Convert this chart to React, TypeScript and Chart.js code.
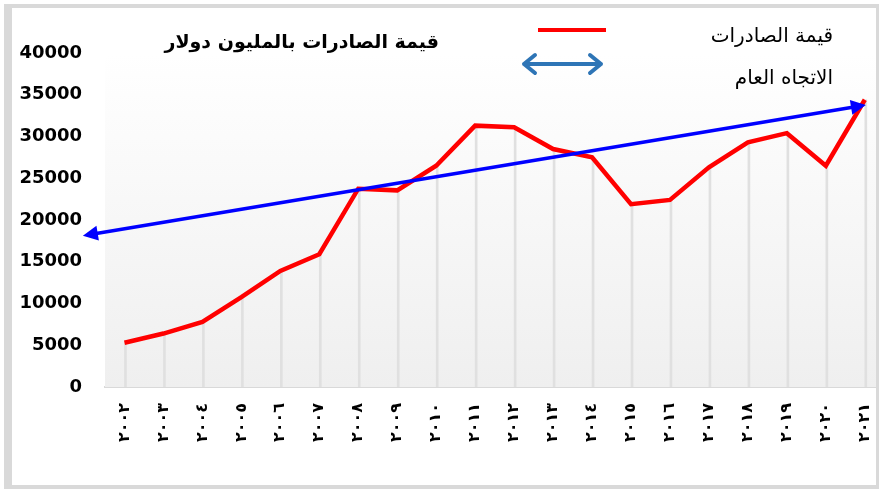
import React, { useEffect, useRef } from "react";
import { Chart, registerables } from "chart.js";

Chart.register(...registerables);

const YEARS = [
  "٢٠٠٢", "٢٠٠٣", "٢٠٠٤", "٢٠٠٥", "٢٠٠٦", "٢٠٠٧", "٢٠٠٨", "٢٠٠٩", "٢٠١٠", "٢٠١١",
  "٢٠١٢", "٢٠١٣", "٢٠١٤", "٢٠١٥", "٢٠١٦", "٢٠١٧", "٢٠١٨", "٢٠١٩", "٢٠٢٠", "٢٠٢١",
];
const EXPORTS = [
  5300, 6400, 7800, 10750, 13900, 15900, 23750, 23550, 26500, 31300,
  31100, 28500, 27500, 21900, 22400, 26300, 29300, 30400, 26500, 34400,
];
const TREND_X = [-0.84, 18.8];
const TREND_Y = [18300, 33600];
const Y_MIN = 0;
const Y_MAX = 40000;
const Y_STEP = 5000;

const TITLE = "قيمة الصادرات بالمليون دولار";
const LEGEND_EXPORTS = "قيمة الصادرات";
const LEGEND_TREND = "الاتجاه العام";

const bgPlugin = {
  id: "bgPlugin",
  beforeDatasetsDraw(chart: any) {
    const { ctx, chartArea: a } = chart;
    const g = ctx.createLinearGradient(0, a.top, 0, a.bottom);
    g.addColorStop(0, "#ffffff");
    g.addColorStop(1, "#efefef");
    ctx.save();
    ctx.fillStyle = g;
    ctx.fillRect(a.left, a.top, a.right - a.left, a.bottom - a.top);
    ctx.restore();
  },
};

// arrow heads at both ends of the trend dataset, placed from its own points
const arrowPlugin = {
  id: "arrowPlugin",
  afterDatasetsDraw(chart: any) {
    const meta = chart.getDatasetMeta(0);
    const pts = meta.data;
    if (!pts || pts.length < 2) return;
    const a = pts[0];
    const b = pts[pts.length - 1];
    const dx = b.x - a.x;
    const dy = b.y - a.y;
    const len = Math.hypot(dx, dy);
    const ux = dx / len;
    const uy = dy / len;
    const { ctx } = chart;
    const head = (px: number, py: number, sx: number, sy: number) => {
      const tipX = px + sx * 9;
      const tipY = py + sy * 9;
      const bx = px - sx * 6;
      const by = py - sy * 6;
      const nx = -sy * 7.5;
      const ny = sx * 7.5;
      ctx.beginPath();
      ctx.moveTo(tipX, tipY);
      ctx.lineTo(bx + nx, by + ny);
      ctx.lineTo(bx - nx, by - ny);
      ctx.closePath();
      ctx.fill();
    };
    ctx.save();
    ctx.fillStyle = "#0000ff";
    head(a.x, a.y, -ux, -uy);
    head(b.x, b.y, ux, uy);
    ctx.restore();
  },
};

const overlayPlugin = {
  id: "overlayPlugin",
  afterDraw(chart: any) {
    const { ctx } = chart;
    ctx.save();
    ctx.fillStyle = "#000";
    ctx.font = 'bold 19px "DejaVu Sans"';
    ctx.textAlign = "right";
    ctx.textBaseline = "middle";
    ctx.fillText(TITLE, 439, 43);
    ctx.strokeStyle = "#ff0000";
    ctx.lineWidth = 4;
    ctx.beginPath();
    ctx.moveTo(538, 30);
    ctx.lineTo(606, 30);
    ctx.stroke();
    ctx.font = '20px "DejaVu Sans"';
    ctx.fillText(LEGEND_EXPORTS, 833, 37);
    ctx.strokeStyle = "#2e75b6";
    ctx.lineWidth = 4;
    ctx.lineCap = "round";
    ctx.lineJoin = "round";
    ctx.beginPath();
    ctx.moveTo(524, 64);
    ctx.lineTo(601, 64);
    ctx.moveTo(535, 55);
    ctx.lineTo(524, 64);
    ctx.lineTo(535, 73);
    ctx.moveTo(590, 55);
    ctx.lineTo(601, 64);
    ctx.lineTo(590, 73);
    ctx.stroke();
    ctx.fillText(LEGEND_TREND, 833, 79);
    ctx.restore();
  },
};

export default function App() {
  const ref = useRef<HTMLCanvasElement>(null);

  useEffect(() => {
    if (!ref.current) return;
    const chart = new Chart(ref.current, {
      type: "bar",
      data: {
        labels: YEARS,
        datasets: [
          {
            type: "line",
            label: LEGEND_TREND,
            data: TREND_X.map((x, i) => ({ x, y: TREND_Y[i] })),
            xAxisID: "xt",
            borderColor: "#0000ff",
            backgroundColor: "#0000ff",
            borderWidth: 3.5,
            pointRadius: 0,
            clip: false,
            order: 0,
          } as any,
          {
            type: "line",
            label: LEGEND_EXPORTS,
            data: EXPORTS,
            borderColor: "#ff0000",
            borderWidth: 4.5,
            pointRadius: 0,
            tension: 0,
            order: 1,
          } as any,
          {
            type: "bar",
            label: "drop",
            data: EXPORTS,
            backgroundColor: "#e0e0e0",
            barThickness: 2,
            order: 2,
          } as any,
        ],
      },
      options: {
        responsive: false,
        animation: false,
        layout: { padding: { top: 53, left: 0, right: 0, bottom: 0 } },
        plugins: {
          legend: { display: false },
          tooltip: { enabled: false },
          title: { display: false },
        },
        scales: {
          x: {
            type: "category",
            offset: true,
            grid: { display: false, drawTicks: false },
            border: { display: true, color: "#d9d9d9", width: 2 },
            ticks: {
              minRotation: 90,
              maxRotation: 90,
              autoSkip: false,
              padding: 16,
              color: "#000",
              font: { family: "DejaVu Sans", size: 16, weight: "bold" },
            },
            afterFit: (s: any) => {
              s.height = 102;
            },
          },
          xt: {
            type: "linear",
            display: false,
            offset: false,
            grid: { offset: false },
            min: -0.5,
            max: 19.5,
          },
          y: {
            min: Y_MIN,
            max: Y_MAX,
            grid: { display: false, drawTicks: false },
            border: { display: false },
            ticks: {
              stepSize: Y_STEP,
              padding: 23,
              color: "#000",
              font: { family: "DejaVu Sans", size: 18, weight: "bold" },
              callback: (v: any) => String(v),
            },
            afterFit: (s: any) => {
              s.width = 105;
            },
          },
        },
      } as any,
      plugins: [bgPlugin, arrowPlugin, overlayPlugin],
    });
    return () => chart.destroy();
  }, []);

  return (
    <div
      style={{
        position: "absolute",
        left: 0,
        top: 0,
        width: 879,
        height: 489,
        overflow: "hidden",
        background: "#fff",
      }}
    >
      <canvas ref={ref} width={900} height={489} style={{ display: "block" }} />
      <div
        style={{
          position: "absolute",
          left: 4,
          top: 4,
          width: 875,
          height: 485,
          boxSizing: "border-box",
          borderLeft: "8px solid #d9d9d9",
          borderTop: "4px solid #d9d9d9",
          borderRight: "3px solid #d9d9d9",
          borderBottom: "4px solid #d9d9d9",
          pointerEvents: "none",
        }}
      />
    </div>
  );
}
